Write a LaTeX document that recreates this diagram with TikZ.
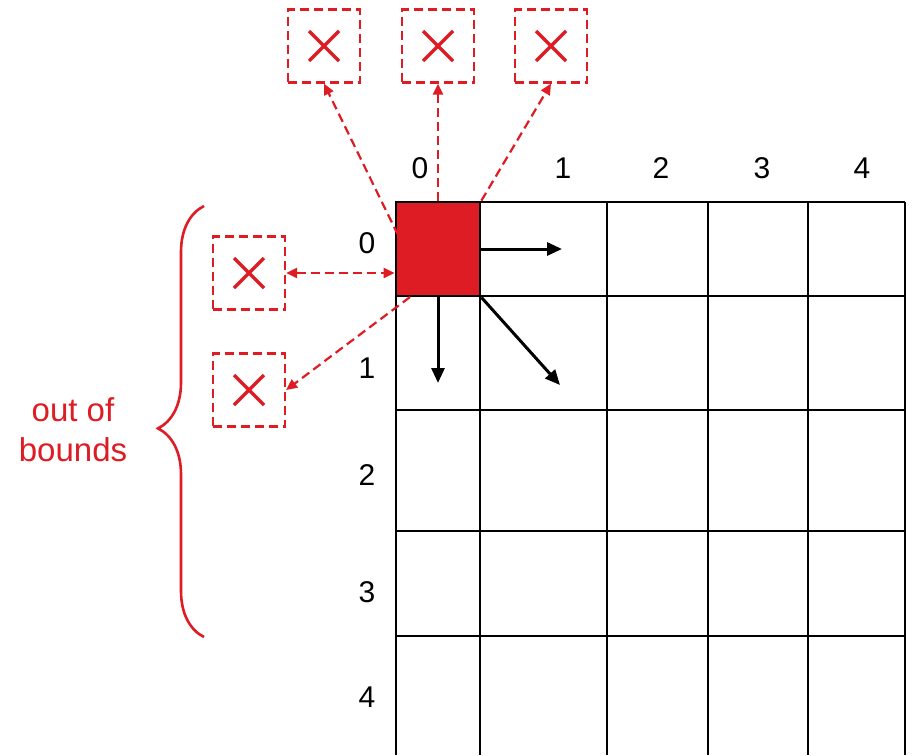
\documentclass[tikz,border=0pt]{standalone}
\usepackage{fontspec}
\setmainfont{Liberation Sans}
\usetikzlibrary{arrows.meta,decorations.pathreplacing}
\definecolor{oobred}{RGB}{222,28,36}
\tikzset{
  gridline/.style={line width=2.8pt, black},
  oobbox/.style={draw=oobred, dashed, dash pattern=on 9pt off 5pt, line width=2.2pt, minimum width=72pt, minimum height=73pt, inner sep=0pt},
  crossline/.style={oobred, line width=3.2pt},
  oobarrow/.style={oobred, dashed, dash pattern=on 9pt off 5pt, line width=2.2pt, -{Triangle[length=11pt,width=10pt]}},
  movearrow/.style={black, line width=3pt, -{Triangle[length=15pt,width=13pt]}},
  lbl/.style={font=\fontsize{30}{36}\selectfont, inner sep=0pt},
}
\begin{document}
\begin{tikzpicture}[x=1pt,y=-1pt]
\useasboundingbox[fill=white] (0,0) rectangle (917,755);
% grid
\foreach \x in {396,480,607,708,808,905} \draw[gridline] (\x,202) -- (\x,755);
\foreach \y in {202,296,410,531,636} \draw[gridline] (396,\y) -- (905,\y);
% current cell
\node[draw=black, fill=oobred, line width=2.8pt, minimum width=84pt, minimum height=94pt, inner sep=0pt] (cell) at (438,249) {};
% column labels
\node[lbl] (c0) at (420,168) {0};
\node[lbl] (c1) at (563,168) {1};
\node[lbl] (c2) at (661,168) {2};
\node[lbl] (c3) at (762,168) {3};
\node[lbl] (c4) at (862,168) {4};
% row labels
\node[lbl] (r0) at (367,243) {0};
\node[lbl] (r1) at (367,368) {1};
\node[lbl] (r2) at (367,475) {2};
\node[lbl] (r3) at (367,592) {3};
\node[lbl] (r4) at (367,697) {4};
% out-of-bounds boxes
\node[oobbox] (b1) at (324,46) {};
\node[oobbox] (b2) at (438,46) {};
\node[oobbox] (b3) at (551,46) {};
\node[oobbox] (b4) at (249,273) {};
\node[oobbox] (b5) at (249,390) {};
\foreach \b in {b1,b2,b3,b4,b5}
  \draw[crossline] (\b.center) ++(-15,-15) -- ++(30,30) ++(0,-30) -- ++(-30,30);
% dashed arrows to out-of-bounds
\coordinate (s1) at (398,235);
\coordinate (s5) at (410,297);
\draw[oobarrow] (s1) -- (b1.south);
\draw[oobarrow] (cell.north) -- (b2.south);
\draw[oobarrow] (cell.north east) -- (b3.south);
\draw[oobarrow, {Triangle[length=11pt,width=10pt]}-{Triangle[length=11pt,width=10pt]}] (b4.east) -- (b4.east -| cell.west);
\draw[oobarrow] (s5) -- (b5.east);
% valid moves
\coordinate (m1) at (562,249);
\coordinate (m2) at (438,383);
\coordinate (m3) at (560,385);
\draw[movearrow] (cell.east) -- (m1);
\draw[movearrow] (cell.south) -- (m2);
\draw[movearrow] (cell.south east) -- (m3);
% brace
\coordinate (brbot) at (204,637);
\coordinate (brtop) at (204,206);
\draw[oobred, line width=2.6pt, decorate, decoration={brace, amplitude=46pt, aspect=0.484}] (brbot) -- (brtop);
\node[oobred, align=center, font=\fontsize{33}{40}\selectfont, inner sep=0pt] (oob) at (73,430) {out of\\bounds};
\end{tikzpicture}
\end{document}
